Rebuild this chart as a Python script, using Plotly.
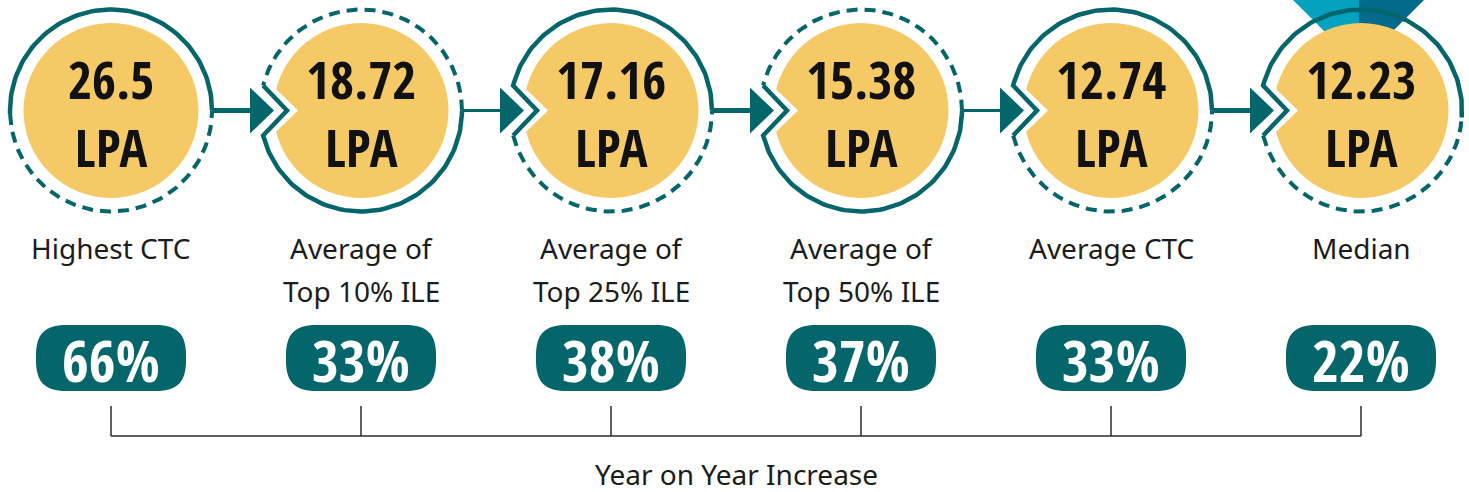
import math
import plotly.graph_objects as go

# ---------------- data ----------------
categories = ["Highest CTC", "Average of\nTop 10% ILE", "Average of\nTop 25% ILE",
              "Average of\nTop 50% ILE", "Average CTC", "Median"]
ctc_lpa = [26.5, 18.72, 17.16, 15.38, 12.74, 12.23]
yoy_increase = [66, 33, 38, 37, 33, 22]
unit_label = "LPA"
axis_title = "Year on Year Increase"
solid_top = [True, False, True, False, True, True]

# ---------------- style / layout constants ----------------
W, H = 1469, 492
PX = 250.0          # pixels per category step
X0 = 111.0          # pixel position of first category
TEAL = "#04666A"
YELLOW = "#F5C966"
CYAN = "#05A2BF"
BLUE = "#036A8C"
DARK = "#1c1c1c"
COND = "Open Sans Condensed, Roboto Condensed, sans-serif"
BODY = "Noto Sans, Open Sans, sans-serif"

CY = 110.5   # circle centre (y, px)
RR = 101.0   # ring radius
RY = 87.5    # yellow radius


def ux(p):
    return p / PX


xs = list(range(len(categories)))
fig = go.Figure()
shapes = []
annotations = []


def arc(c, t0, t1, n=90):
    xx, yy = [], []
    for k in range(n + 1):
        t = math.radians(t0 + (t1 - t0) * k / n)
        xx.append(c + ux(RR * math.cos(t)))
        yy.append(CY - RR * math.sin(t))
    return xx, yy


notch_a = math.degrees(math.asin(25 / RR))

for i, c in enumerate(xs):
    notch = i > 0
    # ribbon on last
    if i == len(xs) - 1:
        shapes.append(dict(type="path", layer="below", line=dict(width=0), fillcolor=CYAN,
                           path=f"M {c+ux(-73)},-5 L {c+ux(-2)},-5 L {c+ux(-2)},40 L {c+ux(-28)},40 Z"))
        shapes.append(dict(type="path", layer="below", line=dict(width=0), fillcolor=BLUE,
                           path=f"M {c+ux(-2)},-5 L {c+ux(68)},-5 L {c+ux(23)},40 L {c+ux(-2)},40 Z"))
    # yellow disc
    shapes.append(dict(type="circle", layer="below", xref="x", yref="y",
                       x0=c - ux(RY), x1=c + ux(RY), y0=CY - RY, y1=CY + RY,
                       fillcolor=YELLOW, line=dict(width=0)))
    if notch:
        shapes.append(dict(type="path", layer="below", line=dict(width=0), fillcolor="white",
                           path=f"M {c+ux(-96)},{CY-32} L {c+ux(-63)},{CY} L {c+ux(-96)},{CY+32} Z"))
        lt, lb = 180 - notch_a, 180 + notch_a
    else:
        lt, lb = 182, 182
    end_r = 0 if i < len(xs) - 1 else -4
    ux_, uy_ = arc(c, end_r, lt)
    lx_, ly_ = arc(c, lb, 360)
    if notch:
        chev_x = [c + ux(-74)]
        chev_y = [CY]
    else:
        chev_x, chev_y = [], []
    if solid_top[i]:
        sx = ux_ + chev_x + [lx_[0]]
        sy = uy_ + chev_y + [ly_[0]]
        dx, dy = lx_, ly_
    else:
        sx = [ux_[-1]] + chev_x + lx_
        sy = [uy_[-1]] + chev_y + ly_
        dx, dy = ux_, uy_
    fig.add_trace(go.Scatter(x=dx, y=dy, mode="lines", hoverinfo="skip",
                             line=dict(color=TEAL, width=4, dash="11px,7px")))
    fig.add_trace(go.Scatter(x=sx, y=sy, mode="lines", hoverinfo="skip",
                             line=dict(color=TEAL, width=4.5)))
    if notch:
        shapes.append(dict(type="path", layer="above", line=dict(width=0), fillcolor=TEAL,
                           path=f"M {c+ux(-111)},{CY-23} L {c+ux(-87)},{CY} L {c+ux(-111)},{CY+23} Z"))
        # connector from previous circle
        fig.add_trace(go.Scatter(x=[xs[i-1] + ux(RR), c + ux(-110)], y=[CY, CY], mode="lines",
                                 hoverinfo="skip",
                                 line=dict(color=TEAL, width=5 if solid_top[i-1] else 3)))

    # value text (two lines)
    annotations.append(dict(x=c, y=112, text=f"<b>{ctc_lpa[i]:g}<br>{unit_label}</b>",
                            showarrow=False, align="center",
                            font=dict(family=COND, size=52, color="#111111")))
    # category labels
    for j, line in enumerate(categories[i].split("\n")):
        annotations.append(dict(x=c, y=248 + 43 * j, text=line, showarrow=False,
                                font=dict(family=BODY, size=28, color=DARK)))
    # pill
    xl, xr = c - ux(75), c + ux(75)
    yt, yb = 325, 391
    rx, ry = ux(30), 30
    path = (f"M {xl+rx},{yt} L {xr-rx},{yt} C {xr-rx*0.3},{yt} {xr},{yt+ry*0.3} {xr},{yt+ry} "
            f"L {xr},{yb-ry} C {xr},{yb-ry*0.3} {xr-rx*0.3},{yb} {xr-rx},{yb} "
            f"L {xl+rx},{yb} C {xl+rx*0.3},{yb} {xl},{yb-ry*0.3} {xl},{yb-ry} "
            f"L {xl},{yt+ry} C {xl},{yt+ry*0.3} {xl+rx*0.3},{yt} {xl+rx},{yt} Z")
    shapes.append(dict(type="path", layer="below", path=path, fillcolor=TEAL, line=dict(width=0)))
    annotations.append(dict(x=c, y=359, text=f"<b>{yoy_increase[i]}%</b>", showarrow=False,
                            font=dict(family=COND, size=58, color="white")))

# bracket
bx, by = [xs[0], xs[-1], None], [436, 436, None]
for c in xs:
    bx += [c, c, None]
    by += [406, 436, None]
fig.add_trace(go.Scatter(x=bx, y=by, mode="lines", hoverinfo="skip",
                         line=dict(color="#2b2b2b", width=1.5)))
annotations.append(dict(x=sum(xs) / len(xs), y=474, text=axis_title, showarrow=False,
                        font=dict(family=BODY, size=28, color=DARK)))

fig.update_layout(
    width=W, height=H, margin=dict(l=0, r=0, t=0, b=0),
    paper_bgcolor="white", plot_bgcolor="white", showlegend=False,
    xaxis=dict(range=[-X0 / PX, (W - X0) / PX], visible=False, fixedrange=True),
    yaxis=dict(range=[H, 0], visible=False, fixedrange=True),
    shapes=shapes, annotations=annotations,
)
fig.write_html("out.html", config={"displayModeBar": False},
               post_script="document.body.style.margin='0px';document.body.style.overflow='hidden';")
